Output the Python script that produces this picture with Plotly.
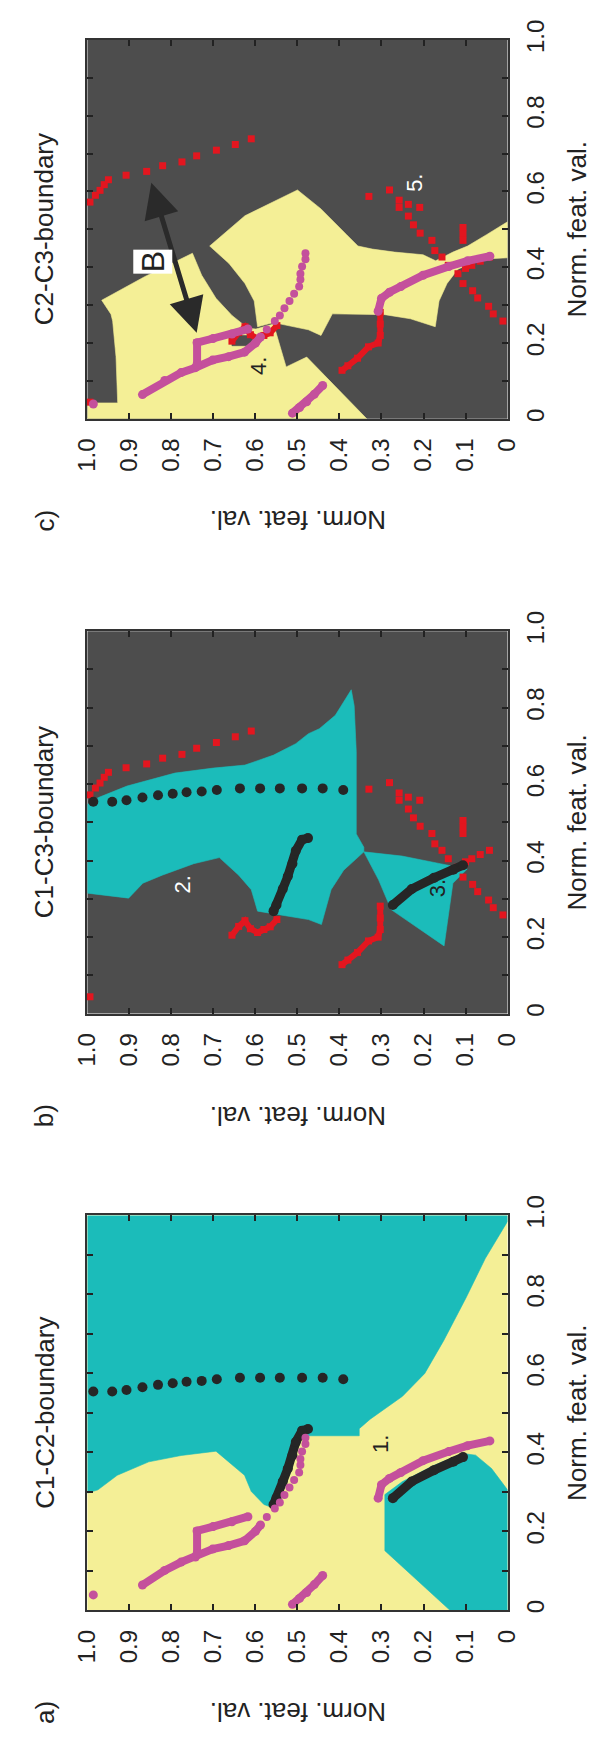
import plotly.graph_objects as go

# ---------------- colours ----------------
YELLOW = "#F4EF96"
CYAN = "#1BBCBA"
DARK = "#4D4D4D"
MAGENTA = "#C4509C"
RED = "#E3161F"
BLACK = "#262626"
FONT = "Arial, Liberation Sans, sans-serif"

# ---------------- axis ticks ----------------
TICKS = [0, 0.1, 0.2, 0.3, 0.4, 0.5, 0.6, 0.7, 0.8, 0.9, 1.0]
H_TICK_TEXT = ["0", "0.1", "0.2", "0.3", "0.4", "0.5", "0.6", "0.7", "0.8", "0.9", "1.0"]
V_TICK_TEXT = ["0", "", "0.2", "", "0.4", "", "0.6", "", "0.8", "", "1.0"]
PANEL_TITLES = ["C1-C2-boundary", "C1-C3-boundary", "C2-C3-boundary"]
PANEL_LETTERS = ["a)", "b)", "c)"]
AXIS_TITLE = "Norm. feat. val."

# ---------------- decision regions (h = horizontal feature, v = vertical feature) ----------------
cyanA1_h = [1.0, 0.0, 0.0, 0.053, 0.099, 0.152, 0.197, 0.250, 0.327, 0.353, 0.353, 0.478, 0.489, 0.504,
            0.512, 0.523, 0.535, 0.550, 0.565, 0.580, 0.610, 0.626, 0.694, 0.777, 0.854, 0.929, 0.975, 1.0]
cyanA1_v = [1.0, 1.0, 0.985, 0.891, 0.791, 0.683, 0.600, 0.542, 0.484, 0.460, 0.442, 0.442, 0.459, 0.426,
            0.392, 0.359, 0.326, 0.284, 0.262, 0.268, 0.301, 0.342, 0.403, 0.392, 0.376, 0.342, 0.305, 0.297]
cyanA2_h = [0.292, 0.250, 0.175, 0.106, 0.076, 0.038, 0.0, 0.0, 0.137, 0.292]
cyanA2_v = [0.293, 0.326, 0.367, 0.397, 0.393, 0.359, 0.305, 0.0, 0.0, 0.151]

cyanB1_h = [1.0, 0.974, 0.906, 0.792, 0.701, 0.625, 0.557, 0.504, 0.474, 0.448, 0.410, 0.372, 0.365, 0.360,
            0.360, 0.342, 0.342, 0.390, 0.420, 0.443, 0.474, 0.595, 0.610, 0.640, 0.686, 0.747, 0.822, 0.868,
            0.902, 1.0]
cyanB1_v = [0.547, 0.565, 0.595, 0.629, 0.642, 0.650, 0.676, 0.706, 0.732, 0.745, 0.780, 0.847, 0.805, 0.685,
            0.470, 0.435, 0.423, 0.375, 0.324, 0.233, 0.246, 0.268, 0.324, 0.362, 0.408, 0.392, 0.362, 0.341,
            0.302, 0.315]
cyanB2_h = [0.342, 0.251, 0.160, 0.096, 0.130, 0.151, 0.277, 0.307]
cyanB2_v = [0.423, 0.412, 0.392, 0.378, 0.341, 0.177, 0.272, 0.350]

yelC1_h = [1.0, 1.0, 0.928, 0.932, 0.940, 0.944, 0.966, 0.864, 0.750, 0.728, 0.694, 0.656, 0.618, 0.599,
           0.557, 0.527, 0.478, 0.335]
yelC1_v = [0.0, 0.042, 0.042, 0.164, 0.258, 0.276, 0.313, 0.375, 0.437, 0.379, 0.318, 0.273, 0.239, 0.237,
           0.250, 0.137, 0.163, 0.0]
yelC2_h = [0.709, 0.625, 0.500, 0.444, 0.383, 0.356, 0.322, 0.269, 0.201, 0.171, 0.130, 0.095, 0.050, 0.0,
           0.0, 0.064, 0.118, 0.144, 0.163, 0.172, 0.231, 0.292, 0.417, 0.444, 0.474, 0.557, 0.595, 0.599,
           0.603, 0.625, 0.663]
yelC2_v = [0.456, 0.536, 0.604, 0.554, 0.486, 0.456, 0.448, 0.440, 0.433, 0.417, 0.440, 0.456, 0.486, 0.520,
           0.425, 0.421, 0.395, 0.357, 0.311, 0.243, 0.264, 0.275, 0.277, 0.220, 0.235, 0.254, 0.243, 0.273,
           0.311, 0.357, 0.410]
darkC_h = [0.656, 0.606, 0.606, 0.656]
darkC_v = [0.220, 0.220, 0.193, 0.193]

# ---------------- samples ----------------
blk_dot_h = [0.986, 0.941, 0.907, 0.869, 0.832, 0.797, 0.764, 0.728, 0.692, 0.637, 0.589, 0.542, 0.489, 0.440, 0.391]
blk_dot_v = [0.554, 0.554, 0.558, 0.565, 0.571, 0.575, 0.579, 0.581, 0.585, 0.589, 0.589, 0.589, 0.589, 0.589, 0.585]
blk_c1_h = [0.475, 0.489, 0.504, 0.512, 0.523, 0.535, 0.550, 0.557]
blk_c1_v = [0.459, 0.455, 0.426, 0.392, 0.359, 0.326, 0.284, 0.268]
blk_c2_h = [0.273, 0.228, 0.175, 0.129, 0.106]
blk_c2_v = [0.284, 0.326, 0.355, 0.376, 0.388]

mag_low_h = [0.869, 0.816, 0.777, 0.743, 0.702, 0.664, 0.626, 0.600, 0.588]
mag_low_v = [0.064, 0.101, 0.122, 0.135, 0.155, 0.164, 0.176, 0.200, 0.216]
mag_up_h = [0.573, 0.554, 0.542, 0.531, 0.519, 0.508, 0.496, 0.493, 0.493, 0.489, 0.481, 0.481]
mag_up_v = [0.236, 0.258, 0.273, 0.292, 0.311, 0.330, 0.349, 0.368, 0.383, 0.402, 0.421, 0.437]
mag_branch_h = [0.739, 0.739, 0.701, 0.656, 0.618]
mag_branch_v = [0.144, 0.201, 0.212, 0.224, 0.237]
mag_single_h = [0.986]
mag_single_v = [0.039]
mag_bottom_h = [0.512, 0.495, 0.478, 0.460, 0.440]
mag_bottom_v = [0.015, 0.030, 0.045, 0.065, 0.088]
mag_right_h = [0.308, 0.300, 0.281, 0.254, 0.201, 0.140, 0.095, 0.042]
mag_right_v = [0.284, 0.318, 0.334, 0.349, 0.379, 0.402, 0.417, 0.429]

red1_h = [0.994, 0.981, 0.970, 0.960, 0.950, 0.908, 0.859, 0.821, 0.775, 0.740, 0.693, 0.648, 0.610]
red1_v = [0.572, 0.590, 0.603, 0.618, 0.631, 0.643, 0.653, 0.668, 0.678, 0.694, 0.709, 0.724, 0.739]
red2_h = [0.994]
red2_v = [0.044]
red3_h = [0.656, 0.640, 0.625, 0.612, 0.595, 0.580, 0.565, 0.549]
red3_v = [0.205, 0.228, 0.243, 0.222, 0.212, 0.220, 0.227, 0.246]
red4_h = [0.394, 0.380, 0.357, 0.331, 0.308, 0.303, 0.303, 0.303]
red4_v = [0.128, 0.140, 0.160, 0.190, 0.200, 0.220, 0.250, 0.281]
red5_h = [-0.002, 0.011, 0.034, 0.045, 0.071, 0.083, 0.106, 0.118, 0.141, 0.156, 0.173, 0.180, 0.208, 0.224,
          0.236, 0.258, 0.258, 0.281, 0.236, 0.209, 0.100, 0.085, 0.065, 0.043]
red5_v = [0.236, 0.258, 0.277, 0.297, 0.319, 0.338, 0.357, 0.383, 0.405, 0.427, 0.444, 0.471, 0.490, 0.512,
          0.535, 0.558, 0.577, 0.604, 0.566, 0.558, 0.397, 0.405, 0.416, 0.427]
red6_h = [0.106, 0.106, 0.106, 0.330]
red6_v = [0.505, 0.488, 0.471, 0.587]

# ---------------- text labels in panels ----------------
labels = [  # (panel, text, h, v, colour)
    (0, "1.", 0.304, 0.421, "#222"),
    (1, "2.", 0.773, 0.337, "#ffffff"),
    (1, "3.", 0.168, 0.328, "#222"),
    (2, "4.", 0.591, 0.140, "#222"),
    (2, "5.", 0.220, 0.623, "#ffffff"),
]
arrowB_head = (0.740, 0.227)
arrowB_tail = (0.849, 0.627)
labelB = (0.844, 0.416)

# ---------------- layout geometry ----------------
X_DOMAIN = [0.1146, 0.8503]
Y_DOMAINS = [[0.0838, 0.3124], [0.4293, 0.6507], [0.7737, 0.9931]]
BG = [YELLOW, DARK, DARK]

fig = go.Figure()
suffix = ["", "2", "3"]


def poly(p, h, v, color):
    s = suffix[p]
    fig.add_trace(go.Scatter(x=h + [h[0]], y=v + [v[0]], mode="lines", fill="toself", fillcolor=color,
                             line=dict(width=0.6, color=color), hoverinfo="skip", showlegend=False,
                             xaxis="x" + s, yaxis="y" + s))


def series(p, h, v, color, size, symbol="circle", lw=0):
    s = suffix[p]
    mode = "lines+markers" if lw else "markers"
    fig.add_trace(go.Scatter(x=h, y=v, mode=mode, marker=dict(color=color, size=size, symbol=symbol, line=dict(width=0)),
                             line=dict(color=color, width=lw), cliponaxis=False, hoverinfo="skip",
                             showlegend=False, xaxis="x" + s, yaxis="y" + s))


def magenta(p):
    series(p, mag_low_h, mag_low_v, MAGENTA, 9, lw=8)
    series(p, mag_up_h, mag_up_v, MAGENTA, 8)
    series(p, mag_branch_h, mag_branch_v, MAGENTA, 9, lw=8)
    series(p, mag_bottom_h, mag_bottom_v, MAGENTA, 9, lw=8)
    series(p, mag_right_h, mag_right_v, MAGENTA, 9, lw=8)
    series(p, mag_single_h, mag_single_v, MAGENTA, 9)


def black(p):
    series(p, blk_dot_h, blk_dot_v, BLACK, 10)
    series(p, blk_c1_h, blk_c1_v, BLACK, 10, lw=9)
    series(p, blk_c2_h, blk_c2_v, BLACK, 10, lw=9)


def red(p):
    series(p, red1_h, red1_v, RED, 7, "square")
    series(p, red2_h, red2_v, RED, 7, "square")
    series(p, red3_h, red3_v, RED, 7, "square", lw=6)
    series(p, red4_h, red4_v, RED, 7, "square", lw=6)
    series(p, red5_h, red5_v, RED, 7, "square")
    series(p, red6_h, red6_v, RED, 7, "square")


# panel a: C1-C2
poly(0, cyanA1_h, cyanA1_v, CYAN)
poly(0, cyanA2_h, cyanA2_v, CYAN)
black(0)
magenta(0)
# panel b: C1-C3
poly(1, cyanB1_h, cyanB1_v, CYAN)
poly(1, cyanB2_h, cyanB2_v, CYAN)
red(1)
black(1)
# panel c: C2-C3
poly(2, yelC1_h, yelC1_v, YELLOW)
poly(2, yelC2_h, yelC2_v, YELLOW)
poly(2, darkC_h, darkC_v, DARK)
red(2)
magenta(2)

axis_common = dict(tickvals=TICKS, tickangle=-90, ticks="inside", ticklen=6, tickwidth=2, tickcolor="#222",
                   showline=True, linecolor="#333", linewidth=2, mirror="allticks", showgrid=False,
                   zeroline=False, tickfont=dict(family=FONT, size=24, color="#222"), fixedrange=True)
shapes = []
annotations = []
txt = dict(showarrow=False, xanchor="center", yanchor="middle", xref="paper", yref="paper")
for p in range(3):
    s = suffix[p]
    fig.layout["xaxis" + s] = dict(axis_common, domain=X_DOMAIN, range=[1.0, 0.0], ticktext=H_TICK_TEXT,
                                   anchor="y" + s, ticklabelstandoff=8)
    fig.layout["yaxis" + s] = dict(axis_common, domain=Y_DOMAINS[p], range=[0.0, 1.0], ticktext=V_TICK_TEXT,
                                   anchor="x" + s, side="right", ticklabelstandoff=6)
    shapes.append(dict(type="rect", xref="x" + s + " domain", yref="y" + s + " domain", x0=0, x1=1, y0=0, y1=1,
                       fillcolor=BG[p], line=dict(width=0), layer="below"))
    d0, d1 = Y_DOMAINS[p]
    mid = (d0 + d1) / 2
    annotations.append(dict(txt, text=PANEL_TITLES[p], x=0.040, y=mid, textangle=-90,
                            font=dict(family=FONT, size=26, color="#222")))
    annotations.append(dict(txt, text=AXIS_TITLE, x=0.972, y=mid, textangle=-90,
                            font=dict(family=FONT, size=26, color="#222")))
    annotations.append(dict(txt, text=AXIS_TITLE, x=(X_DOMAIN[0] + X_DOMAIN[1]) / 2, y=d0 - 0.059,
                            textangle=180, font=dict(family=FONT, size=26, color="#222")))
    annotations.append(dict(txt, text=PANEL_LETTERS[p], x=0.040, y=d0 - 0.059, textangle=-90,
                            font=dict(family=FONT, size=26, color="#222")))

for p, t, h, v, c in labels:
    s = suffix[p]
    annotations.append(dict(text=t, xref="x" + s, yref="y" + s, x=h, y=v, textangle=-90, showarrow=False,
                            xanchor="center", yanchor="middle", font=dict(family=FONT, size=22, color=c)))

# B arrow (double-headed) and label
annotations.append(dict(text="", xref="x3", yref="y3", axref="x3", ayref="y3", x=arrowB_head[0], y=arrowB_head[1],
                        ax=arrowB_tail[0], ay=arrowB_tail[1], showarrow=True, arrowhead=2, arrowside="end+start",
                        arrowwidth=5, arrowsize=1.4, arrowcolor="#2a2a2a", standoff=0, startstandoff=0))
annotations.append(dict(text="B", xref="x3", yref="y3", x=labelB[0], y=labelB[1], textangle=-90, showarrow=False,
                        xanchor="center", yanchor="middle", bgcolor="white", borderpad=1,
                        font=dict(family=FONT, size=32, color="#222")))

fig.update_layout(width=598, height=1750, margin=dict(l=0, r=0, t=0, b=0), paper_bgcolor="white",
                  plot_bgcolor="white", showlegend=False, shapes=shapes, annotations=annotations)

fig.write_html("out.html")
